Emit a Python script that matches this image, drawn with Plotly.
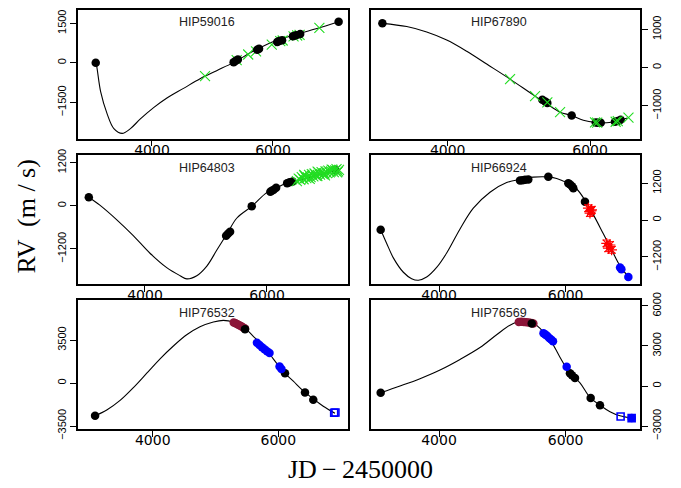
import plotly.graph_objects as go

# ---------------- HIP59016 ----------------
hip59016_curve_jd = [3070, 3085, 3151, 3260, 3370, 3507, 3644, 3808, 4027, 4247, 4521, 4795, 5069, 5343, 5671, 6000, 6329, 6713, 7085]
hip59016_curve_rv = [10, -110, -1086, -1940, -2489, -2672, -2489, -2123, -1696, -1330, -964, -598, -293, 12, 439, 805, 1049, 1293, 1562]
hip59016_black_jd = [3070, 5350, 5385, 5420, 5740, 5770, 6070, 6105, 6150, 6330, 6380, 6450, 7085]
hip59016_black_rv = [10, 30, 80, 130, 500, 540, 790, 830, 860, 1010, 1050, 1100, 1562]
hip59016_green_jd = [4877, 5400, 5590, 5720, 5980, 6120, 6160, 6340, 6400, 6440, 6767]
hip59016_green_rv = [-500, 110, 320, 440, 690, 830, 850, 1010, 1040, 1060, 1330]

# ---------------- HIP67890 ----------------
hip67890_curve_jd = [3082, 3424, 3705, 3986, 4267, 4548, 4876, 5227, 5368, 5579, 5733, 5906, 6070, 6234, 6422, 6525]
hip67890_curve_rv = [1159, 1075, 932, 722, 428, 92, -302, -748, -916, -1168, -1252, -1378, -1436, -1445, -1378, -1319]
hip67890_black_jd = [3082, 5330, 5370, 5400, 5742, 6080, 6110, 6150, 6350, 6390, 6430]
hip67890_black_rv = [1159, -840, -890, -930, -1255, -1440, -1445, -1445, -1420, -1400, -1370]
hip67890_green_jd = [4876, 5227, 5400, 5579, 6070, 6100, 6360, 6390, 6540]
hip67890_green_rv = [-302, -748, -910, -1168, -1435, -1440, -1420, -1405, -1310]

# ---------------- HIP64803 ----------------
hip64803_curve_jd = [3079, 3260, 3534, 3808, 4082, 4356, 4575, 4685, 4849, 5014, 5178, 5343, 5507, 5754, 6000, 6164, 6329, 6493, 6822, 7151]
hip64803_curve_rv = [241, 18, -384, -830, -1320, -1722, -1945, -2034, -1945, -1677, -1231, -785, -339, -9, 375, 508, 640, 700, 850, 990]
hip64803_black_jd = [3079, 5330, 5360, 5395, 5750, 6055, 6080, 6110, 6150, 6330, 6370, 6420, 7120]
hip64803_black_rv = [241, -830, -780, -720, -9, 390, 420, 450, 500, 630, 655, 680, 1000]
hip64803_green_jd = [6490, 6520, 6545, 6570, 6600, 6620, 6645, 6670, 6690, 6715, 6735, 6760, 6780, 6800,
                     6825, 6850, 6870, 6895, 6915, 6940, 6960, 6985, 7005, 7030, 7050, 7075, 7095,
                     7120, 7140, 7165, 7180, 6700, 6830, 6950, 7060, 6610, 7150]
hip64803_green_rv = [690, 760, 720, 800, 740, 830, 770, 790, 860, 800, 880, 820, 900, 850,
                     830, 920, 870, 940, 880, 900, 960, 910, 980, 930, 960, 1000, 940,
                     990, 1020, 960, 1000, 750, 950, 850, 1010, 860, 930]

# ---------------- HIP66924 ----------------
hip66924_curve_jd = [3079, 3174, 3279, 3437, 3568, 3674, 3805, 3963, 4121, 4332, 4542, 4805, 5068, 5279, 5489, 5700, 5858, 6016, 6174, 6305, 6437, 6595, 6726, 6858, 7016]
hip66924_curve_rv = [-313, -761, -1231, -1700, -1909, -1961, -1857, -1544, -1074, -292, 386, 907, 1220, 1325, 1398, 1408, 1356, 1220, 1012, 647, 177, -448, -970, -1491, -1909]
hip66924_black_jd = [3079, 5279, 5320, 5360, 5410, 5726, 6042, 6070, 6100, 6121, 6305]
hip66924_black_rv = [-313, 1290, 1300, 1310, 1320, 1408, 1199, 1160, 1100, 1040, 600]
hip66924_red_jd = [6358, 6384, 6400, 6410, 6647, 6674, 6700, 6726]
hip66924_red_rv = [386, 229, 300, 334, -761, -918, -813, -970]
hip66924_blue_jd = [6859, 6880, 6990]
hip66924_blue_rv = [-1545, -1600, -1858]

# ---------------- HIP76532 ----------------
hip76532_curve_jd = [3082, 3268, 3480, 3692, 3905, 4117, 4329, 4541, 4753, 4966, 5125, 5284, 5443, 5602, 5761, 5920, 6080, 6239, 6398, 6557, 6716, 6902]
hip76532_curve_rv = [-2664, -2194, -1410, -366, 810, 1985, 3030, 3944, 4597, 4989, 5120, 4989, 4597, 3814, 3030, 1985, 940, 157, -627, -1280, -1881, -2455]
hip76532_black_jd = [3082, 5470, 6107, 6425, 6557]
hip76532_black_rv = [-2664, 4400, 810, -759, -1362]
hip76532_maroon_jd = [5290, 5320, 5350, 5380, 5410, 5440, 5470]
hip76532_maroon_rv = [4950, 4880, 4800, 4720, 4630, 4540, 4450]
hip76532_blue_jd = [5660, 5700, 5740, 5780, 5820, 5860, 6020, 6050]
hip76532_blue_rv = [3290, 3110, 2930, 2760, 2600, 2450, 1350, 1150]
hip76532_bluesq_jd = [6890, 6910]
hip76532_bluesq_rv = [-2420, -2400]

# ---------------- HIP76569 ----------------
hip76569_curve_jd = [3079, 3384, 3700, 4016, 4332, 4647, 4910, 5121, 5305, 5463, 5595, 5753, 5910, 6068, 6226, 6384, 6542, 6700, 6858, 7042]
hip76569_curve_rv = [-504, 0, 552, 1200, 1992, 2880, 3840, 4560, 4872, 4800, 4320, 3480, 2160, 960, 240, -850, -1440, -1920, -2232, -2400]
hip76569_black_jd = [3079, 5464, 6068, 6100, 6147, 6395, 6542]
hip76569_black_rv = [-504, 4676, 957, 800, 597, -892, -1439]
hip76569_maroon_jd = [5260, 5300, 5340, 5380, 5420, 5460, 5490]
hip76569_maroon_rv = [4790, 4810, 4800, 4780, 4750, 4720, 4680]
hip76569_blue_jd = [5650, 5680, 5710, 5740, 5770, 5800, 6016, 7042]
hip76569_blue_rv = [3960, 3850, 3740, 3600, 3480, 3350, 1439, -2403]
hip76569_bluesq_jd = [6868, 7042]
hip76569_bluesq_rv = [-2281, -2403]

star_names = ["HIP59016", "HIP67890", "HIP64803", "HIP66924", "HIP76532", "HIP76569"]
x_ticks = [4000, 6000]
y_ticks = [[-1500, 0, 1500], [-1000, 0, 1000], [-1200, 0, 1200],
           [-1200, 0, 1200], [-3500, 0, 3500], [-3000, 0, 3000, 6000]]

GREEN = "#22dd22"
BLUE = "#0000ff"
RED = "#ff0000"
MAROON = "#8b1538"

panels = [
    dict(curve=(hip59016_curve_jd, hip59016_curve_rv),
         series=[("x", hip59016_green_jd, hip59016_green_rv, GREEN),
                 ("black", hip59016_black_jd, hip59016_black_rv, "black")]),
    dict(curve=(hip67890_curve_jd, hip67890_curve_rv),
         series=[("black", hip67890_black_jd, hip67890_black_rv, "black"),
                 ("x", hip67890_green_jd, hip67890_green_rv, GREEN)]),
    dict(curve=(hip64803_curve_jd, hip64803_curve_rv),
         series=[("black", hip64803_black_jd, hip64803_black_rv, "black"),
                 ("x", hip64803_green_jd, hip64803_green_rv, GREEN)]),
    dict(curve=(hip66924_curve_jd, hip66924_curve_rv),
         series=[("black", hip66924_black_jd, hip66924_black_rv, "black"),
                 ("red", hip66924_red_jd, hip66924_red_rv, RED),
                 ("blue", hip66924_blue_jd, hip66924_blue_rv, BLUE)]),
    dict(curve=(hip76532_curve_jd, hip76532_curve_rv),
         series=[("maroon", hip76532_maroon_jd, hip76532_maroon_rv, MAROON),
                 ("black", hip76532_black_jd, hip76532_black_rv, "black"),
                 ("blue", hip76532_blue_jd, hip76532_blue_rv, BLUE),
                 ("square", hip76532_bluesq_jd, hip76532_bluesq_rv, BLUE)]),
    dict(curve=(hip76569_curve_jd, hip76569_curve_rv),
         series=[("maroon", hip76569_maroon_jd, hip76569_maroon_rv, MAROON),
                 ("black", hip76569_black_jd, hip76569_black_rv, "black"),
                 ("blue", hip76569_blue_jd, hip76569_blue_rv, BLUE),
                 ("square", hip76569_bluesq_jd, hip76569_bluesq_rv, BLUE)]),
]

W, H = 681, 488
col_px = [(78, 348), (371, 640)]
row_px = [(2, 136), (153, 287), (304, 438)]
x_ranges = [[2777, 7240], [2922, 6702], [2902, 7328], [2926, 7174], [2810, 7110], [2926, 7174]]
y_ranges = [[-2873, 2010], [-1864, 1511], [-2172, 1414], [-2077, 2118], [-3735, 6765], [-3216, 6432]]

fig = go.Figure()
layout = dict(width=W, height=H, margin=dict(l=0, r=0, t=0, b=0),
              paper_bgcolor="white", plot_bgcolor="white", showlegend=False)
annotations = []

for i, p in enumerate(panels):
    k = i + 1
    xa = "x" if k == 1 else f"x{k}"
    ya = "y" if k == 1 else f"y{k}"
    r, c = divmod(i, 2)
    cx = col_px[c]
    ry = row_px[r]
    cjd, crv = p["curve"]
    fig.add_trace(go.Scatter(x=cjd, y=crv, mode="lines", xaxis=xa, yaxis=ya,
                             line=dict(color="black", width=1.1, shape="spline", smoothing=1.0),
                             hoverinfo="skip"))
    for kind, xs, ys, col in p["series"]:
        if kind == "x":
            mk = dict(symbol="x-thin", size=10, line=dict(color=col, width=1.1), color=col)
            fig.add_trace(go.Scatter(x=xs, y=ys, mode="markers", xaxis=xa, yaxis=ya, marker=mk))
        elif kind == "red":
            mk = dict(symbol="asterisk-open", size=9, line=dict(color=col, width=1.2), color=col)
            fig.add_trace(go.Scatter(x=xs, y=ys, mode="markers", xaxis=xa, yaxis=ya, marker=mk,
                                     error_y=dict(type="constant", value=110, color=col, thickness=1, width=4)))
        elif kind == "square":
            mk = dict(symbol="square-open", size=7, line=dict(color=col, width=1.6), color=col)
            fig.add_trace(go.Scatter(x=xs, y=ys, mode="markers", xaxis=xa, yaxis=ya, marker=mk))
        else:
            mk = dict(symbol="circle", size=8.5, color=col, line=dict(width=0))
            fig.add_trace(go.Scatter(x=xs, y=ys, mode="markers", xaxis=xa, yaxis=ya, marker=mk))

    xkey = "xaxis" if k == 1 else f"xaxis{k}"
    ykey = "yaxis" if k == 1 else f"yaxis{k}"
    layout[xkey] = dict(domain=[cx[0] / W, cx[1] / W], range=x_ranges[i], anchor=ya,
                        showgrid=False, zeroline=False, showline=True, mirror=True,
                        linecolor="black", linewidth=1.5, ticks="outside", ticklen=6,
                        tickwidth=1.2, tickcolor="black", tickvals=x_ticks,
                        ticktext=[str(v) for v in x_ticks], ticklabelstandoff=-8,
                        tickfont=dict(family="DejaVu Sans", size=14, color="black"))
    layout[ykey] = dict(domain=[(H - ry[1]) / H, (H - ry[0]) / H], range=y_ranges[i], anchor=xa,
                        side="left" if c == 0 else "right",
                        showgrid=False, zeroline=False, showline=True, mirror=True,
                        linecolor="black", linewidth=1.5, ticks="outside", ticklen=6,
                        tickwidth=1.2, tickcolor="black", tickvals=y_ticks[i],
                        ticktext=[("\u2212" + str(-v)) if v < 0 else str(v) for v in y_ticks[i]],
                        tickangle=-90,
                        tickfont=dict(family="Liberation Sans", size=11, color="black"))
    annotations.append(dict(text=star_names[i], xref=f"{xa} domain", yref=f"{ya} domain",
                            x=0.477, y=1 - 13 / 134, xanchor="center", yanchor="middle",
                            showarrow=False,
                            font=dict(family="Liberation Sans", size=12.5, color="#222222")))

annotations.append(dict(text="RV  (m / s)", xref="paper", yref="paper", x=27 / W, y=(H - 217) / H,
                        textangle=-90, showarrow=False, xanchor="center", yanchor="middle",
                        font=dict(family="Liberation Serif", size=26, color="black")))
annotations.append(dict(text="JD\u2009\u2212\u20092450000", xref="paper", yref="paper", x=360 / W,
                        y=(H - 480) / H, showarrow=False, xanchor="center", yanchor="middle",
                        font=dict(family="Liberation Serif", size=26, color="black")))
layout["annotations"] = annotations
fig.update_layout(**layout)
fig.write_html("out.html")
